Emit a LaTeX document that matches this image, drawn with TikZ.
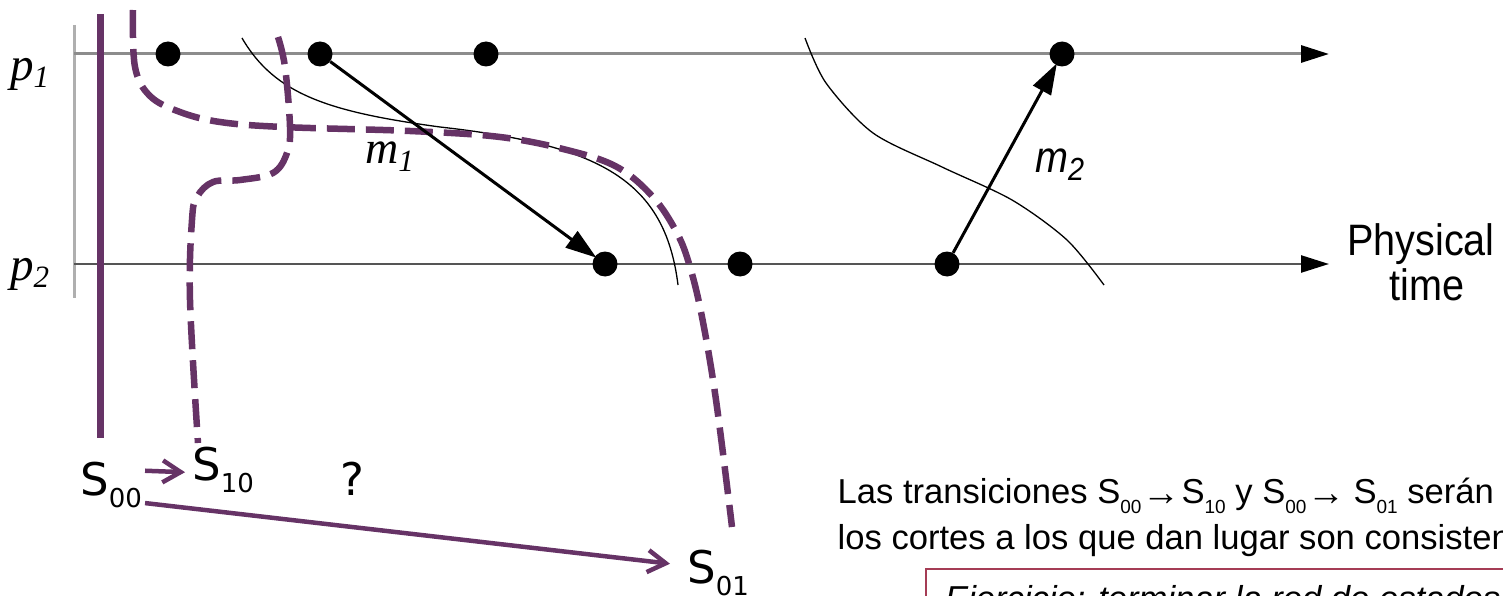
\documentclass[tikz,border=0pt]{standalone}
\usepackage{fontspec}
\usetikzlibrary{arrows.meta}
\newfontfamily\dejavu{DejaVu Sans}
\newfontfamily\libsans{Liberation Sans}
\newfontfamily\libserif{Liberation Serif}
\newfontfamily\narrowsans[FakeStretch=0.9]{Liberation Sans}
\definecolor{cutpurple}{RGB}{102,51,102}
\definecolor{boxred}{RGB}{165,60,85}
\definecolor{lineA}{RGB}{140,140,140}
\definecolor{lineB}{RGB}{85,85,85}
\definecolor{axisgray}{RGB}{175,175,175}
\newcommand\Ssub[1]{\raisebox{-12.5pt}{\fontsize{26}{30}\selectfont #1}}
\newcommand\tsub[1]{\raisebox{-10.5pt}{\fontsize{19}{22}\selectfont #1}}
\newcommand\tarr{\raisebox{-2pt}{\fontsize{38}{40}\selectfont →}}
\begin{document}
\begin{tikzpicture}[x=1pt,y=-1pt,
  timeA/.style={line width=3pt, lineA, -{Triangle[length=28pt,width=17pt,color=black]}},
  timeB/.style={line width=2.5pt, lineB, -{Triangle[length=28pt,width=17pt,color=black]}},
  evdot/.style={circle, fill=black, inner sep=0pt, minimum size=25pt},
  msg/.style={line width=3pt, black, -{Triangle[length=31pt,width=20pt]}, shorten >=-2pt},
  thincut/.style={line width=1.3pt, black},
  dcut/.style={line width=6.5pt, cutpurple, dash pattern=on 28pt off 11pt},
  scut/.style={line width=7pt, cutpurple},
  sarrow/.style={line width=4.5pt, cutpurple, -{Straight Barb[length=18pt,width=22pt]}},
  slabel/.style={anchor=base west, inner sep=0pt, font=\dejavu\fontsize{45}{54}\selectfont},
  plabel/.style={anchor=base west, inner sep=0pt, font=\libserif\itshape\fontsize{47}{52}\selectfont},
  txt/.style={anchor=base west, inner sep=0pt, font=\libsans\fontsize{34.6}{40}\selectfont}
]
\useasboundingbox (0,0) rectangle (1503,596);
\clip (0,0) rectangle (1503,596);

% axes
\coordinate (vt) at (74,25); \coordinate (vb) at (74,298);
\draw[axisgray, line width=3pt] (vt) -- (vb);
\coordinate (p1s) at (74,54); \coordinate (p1e) at (1329,54);
\coordinate (p2s) at (74,264); \coordinate (p2e) at (1329,264);
\draw[timeA] (p1s) -- (p1e);
\draw[timeB] (p2s) -- (p2e);

% process labels
\node[plabel] (lp1) at (10,81) {p\raisebox{-7pt}{\fontsize{31}{34}\selectfont 1}};
\node[plabel] (lp2) at (10,280) {p\raisebox{-7pt}{\fontsize{31}{34}\selectfont 2}};

% thin cuts
\coordinate (k1a) at (242,38); \coordinate (k1b) at (440,127); \coordinate (k1c) at (678,285);
\draw[thincut] (k1a) .. controls (275,95) and (330,112) .. (k1b) .. controls (600,145) and (665,180) .. (k1c);
\draw[thincut] plot[smooth,tension=0.5] coordinates {(805,38) (826,83) (873,133) (942,167) (1012,200) (1067,240) (1104,285)};

% purple cuts
\coordinate (c0t) at (100,14); \coordinate (c0b) at (100,438);
\draw[scut] (c0t) -- (c0b);
\draw[dcut] plot[smooth,tension=0.6] coordinates {(133,10) (135,67) (150,96) (180,112) (220,122) (283,127) (410,131) (500,137) (567,150) (617,167) (653,197) (677,233) (690,267) (702,317) (716,400) (732,527)};
\draw[dcut] plot[smooth,tension=0.6] coordinates {(278,37) (285,67) (290,127) (287,153) (273,173) (240,180) (213,182) (197,197) (192,220) (190,300) (198,443)};

% events
\node[evdot] (a1) at (168,54) {};
\node[evdot] (a2) at (320,54) {};
\node[evdot] (a3) at (486,54) {};
\node[evdot] (a4) at (1062,54) {};
\node[evdot] (b1) at (605,264) {};
\node[evdot] (b2) at (740,264) {};
\node[evdot] (b3) at (947,264) {};

% messages
\draw[msg] (a2) -- (b1);
\draw[msg] (b3) -- (a4);
\node[anchor=base west, inner sep=0pt, font=\libserif\itshape\fontsize{46}{50}\selectfont] (m1) at (365,164) {m\raisebox{-8pt}{\fontsize{31}{34}\selectfont 1}};
\node[anchor=base west, inner sep=0pt, font=\narrowsans\itshape\fontsize{44}{50}\selectfont] (m2) at (1035,173) {m\raisebox{-8pt}{\fontsize{32}{36}\selectfont 2}};

% physical time
\node[anchor=base, inner sep=0pt, font=\narrowsans\fontsize{44}{50}\selectfont] (ph1) at (1421,255) {Physical};
\node[anchor=base, inner sep=0pt, font=\narrowsans\fontsize{44}{50}\selectfont] (ph2) at (1427,300) {time};

% states
\node[slabel] (s00) at (80,495) {S\Ssub{00}};
\node[slabel] (s10) at (192,480) {S\Ssub{10}};
\node[slabel] (q) at (340,495) {?};
\node[slabel] (s01) at (687,583) {S\Ssub{01}};
\draw[sarrow] ([xshift=3pt,yshift=14pt]s00.east) -- ([xshift=-7pt,yshift=-2.5pt]s10.west);
\draw[sarrow] ([xshift=3pt,yshift=5pt]s00.south east) -- ([xshift=-17pt,yshift=9pt]s01.west);

% text
\node[txt] (t1) at (837.5,503) {Las transiciones S\tsub{00}\hspace{1pt}\tarr\hspace{1pt}S\tsub{10} y S\tsub{00}\hspace{1pt}\tarr\hspace{8pt}S\tsub{01} serán posibles porque};
\node[txt] (t2) at (837.5,549) {los cortes a los que dan lugar son consistentes.};
\coordinate (bx1) at (926,569); \coordinate (bx2) at (1540,660);
\draw[boxred, line width=1.5pt] (bx1) rectangle (bx2);
\node[txt, font=\libsans\itshape\fontsize{34.6}{40}\selectfont] (ex) at (945,610) {Ejercicio: terminar la red de estados};
\end{tikzpicture}
\end{document}
